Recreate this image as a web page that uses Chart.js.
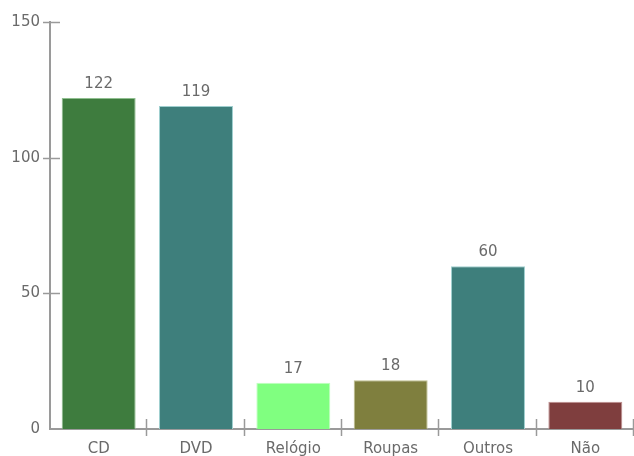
<!DOCTYPE html>
<html>
<head>
<meta charset="utf-8">
<script src="https://cdn.jsdelivr.net/npm/chart.js@4"></script>
<style>
  html, body { margin: 0; padding: 0; background: #fff; }
  #wrap { width: 634px; height: 456px; }
</style>
</head>
<body>
<div id="wrap"><canvas id="chart" width="634" height="456"></canvas></div>
<script>
const categories = ['CD', 'DVD', 'Relógio', 'Roupas', 'Outros', 'Não'];
const values = [122, 119, 17, 18, 60, 10];
const yTicks = [0, 50, 100, 150];
const barColors = ['#3e7c3e', '#3e7f7c', '#80ff80', '#7f7f3e', '#3e7f7c', '#7f3e3e'];
const barEdges = ['#8fbf8f', '#9fcfcf', '#c0ffc0', '#bfbf8f', '#9fcfcf', '#bf8f8f'];

const FONT = 'DejaVu Sans, Verdana, sans-serif';
const TEXT = '#6a6a6a';
const AXIS = '#9a9a9a';

// axis tick marks that cross the axis lines, plus value labels over the bars
const marksPlugin = {
    id: 'marks',
    afterDraw(chart) {
        const ctx = chart.ctx;
        const x = chart.scales.x;
        const y = chart.scales.y;
        const area = chart.chartArea;
        const step = x.getPixelForValue(1) - x.getPixelForValue(0);
        ctx.save();
        ctx.strokeStyle = AXIS;
        ctx.lineWidth = 1.5;
        // y ticks
        yTicks.forEach(function(v) {
            if (v === 0) return;
            const py = Math.round(y.getPixelForValue(v)) + 0.5;
            ctx.beginPath();
            ctx.moveTo(area.left - 7, py);
            ctx.lineTo(area.left + 10, py);
            ctx.stroke();
        });
        // x ticks between categories
        for (let i = 0; i < categories.length; i++) {
            const px = Math.round(x.getPixelForValue(i) + step / 2) - 0.5;
            ctx.beginPath();
            ctx.moveTo(px, area.bottom - 10);
            ctx.lineTo(px, area.bottom + 7);
            ctx.stroke();
        }
        // value labels
        ctx.fillStyle = TEXT;
        ctx.font = '15px ' + FONT;
        ctx.textAlign = 'center';
        ctx.textBaseline = 'alphabetic';
        chart.getDatasetMeta(0).data.forEach(function(bar, i) {
            ctx.fillText(String(values[i]), bar.x, bar.y - 10);
        });
        ctx.restore();
    }
};

new Chart(document.getElementById('chart').getContext('2d'), {
    type: 'bar',
    data: {
        labels: categories,
        datasets: [{
            data: values,
            backgroundColor: barColors,
            borderColor: barEdges,
            borderWidth: 1,
            categoryPercentage: 0.76,
            barPercentage: 1.0
        }]
    },
    options: {
        responsive: false,
        animation: false,
        layout: { padding: { top: 22, right: 0, left: 0, bottom: 0 } },
        plugins: {
            legend: { display: false },
            tooltip: { enabled: false }
        },
        scales: {
            x: {
                grid: { display: false },
                border: { display: true, color: AXIS, width: 2 },
                ticks: { color: TEXT, font: { family: FONT, size: 15 }, padding: 3 },
                afterFit: function(scale) { scale.height = 27; }
            },
            y: {
                min: 0,
                max: 150,
                afterBuildTicks: function(scale) {
                    scale.ticks = yTicks.map(function(v) { return { value: v }; });
                },
                grid: { display: false },
                border: { display: true, color: AXIS, width: 2 },
                ticks: { color: TEXT, font: { family: FONT, size: 15 }, padding: 2 },
                afterFit: function(scale) { scale.width = 50; }
            }
        }
    },
    plugins: [marksPlugin]
});
</script>
</body>
</html>
